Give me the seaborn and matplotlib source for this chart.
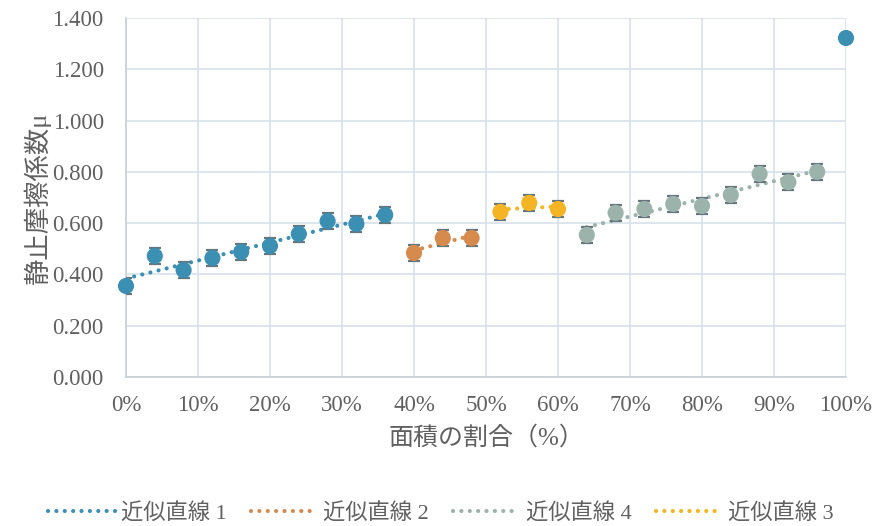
import numpy as np
import pandas as pd
import matplotlib
matplotlib.use('Agg')
import matplotlib.pyplot as plt
import seaborn as sns

# 面積の割合 (%) と 静止摩擦係数
x1 = [0, 4, 8, 12, 16, 20, 24, 28, 32, 36]
y1 = [0.355, 0.472, 0.417, 0.464, 0.488, 0.511, 0.558, 0.608, 0.597, 0.632]
x2 = [40, 44, 48]
y2 = [0.484, 0.542, 0.542]
x3 = [52, 56, 60]
y3 = [0.644, 0.679, 0.655]
x4 = [64, 68, 72, 76, 80, 84, 88, 92, 96]
y4 = [0.554, 0.640, 0.655, 0.675, 0.667, 0.710, 0.792, 0.760, 0.800]
x_last = [100]
y_last = [1.322]
err = 0.032

labels = ['近似直線 1', '近似直線 2', '近似直線 3', '近似直線 4']
colors = ['#3a8fb2', '#d68a4c', '#f4b423', '#9bb3aa']
y_ticks = [0, 0.2, 0.4, 0.6, 0.8, 1.0, 1.2, 1.4]
x_ticks = list(range(0, 101, 10))

sns.set_style('white')
plt.rcParams['font.family'] = ['Liberation Serif', 'Noto Sans CJK JP', 'DejaVu Sans']
txt = '#606060'

fig = plt.figure(figsize=(8.77, 5.26), dpi=100)
ax = fig.add_axes([126/877, 1 - 377/526, (846-126)/877, (377-18)/526])

groups = [(x1, y1), (x2, y2), (x3, y3), (x4, y4)]
for (xs, ys), lab, c in zip(groups, labels, colors):
    # 近似直線 (線形)
    k, b = np.polyfit(xs, ys, 1)
    xf = np.array([min(xs), max(xs)])
    fit = pd.DataFrame({'x': xf, 'y': k * xf + b})
    sns.lineplot(data=fit, x='x', y='y', ax=ax, color=c, lw=3.0,
                 linestyle=(0, (0.01, 2.0)), dash_capstyle='round',
                 label=lab, zorder=2)
    ax.errorbar(xs, ys, yerr=err, fmt='none', ecolor='#66767c',
                capsize=4.5, elinewidth=1, capthick=1.6, zorder=3)
    sns.scatterplot(x=xs, y=ys, ax=ax, color=c, s=135, edgecolor='none',
                    zorder=4, clip_on=False)

sns.scatterplot(x=x_last, y=y_last, ax=ax, color=colors[0], s=135,
                edgecolor='none', zorder=4, clip_on=False)

ax.set_xlim(0, 100)
ax.set_ylim(0, 1.4)
ax.set_xticks(x_ticks)
ax.set_xticklabels([f'{t}%' for t in x_ticks])
ax.set_yticks(y_ticks)
ax.set_yticklabels([f'{t:.3f}' for t in y_ticks])
ax.grid(True, color='#d7e0ea', lw=1.2)
ax.set_axisbelow(True)
for s in ['top', 'right']:
    ax.spines[s].set_visible(False)
for s in ['left', 'bottom']:
    ax.spines[s].set_color('#c8d0d6')
    ax.spines[s].set_linewidth(1.2)
ax.tick_params(axis='both', length=0, labelsize=16.5, colors=txt)
ax.tick_params(axis='x', pad=13)
ax.tick_params(axis='y', pad=16)

ax.set_xlabel('面積の割合（%）', fontsize=18, color=txt, labelpad=7)
ax.set_ylabel('静止摩擦係数μ', fontsize=19, color=txt, labelpad=1)

h, l = ax.get_legend_handles_labels()
order = [0, 1, 3, 2]
ax.legend([h[i] for i in order], [l[i] for i in order], loc='center',
          bbox_to_anchor=(441/877, 1 - 513/526), bbox_transform=fig.transFigure,
          ncol=4, frameon=False, fontsize=16, labelcolor=txt,
          handlelength=3.0, columnspacing=1.1, handletextpad=0.25)

fig.savefig('out.png', dpi=100)
